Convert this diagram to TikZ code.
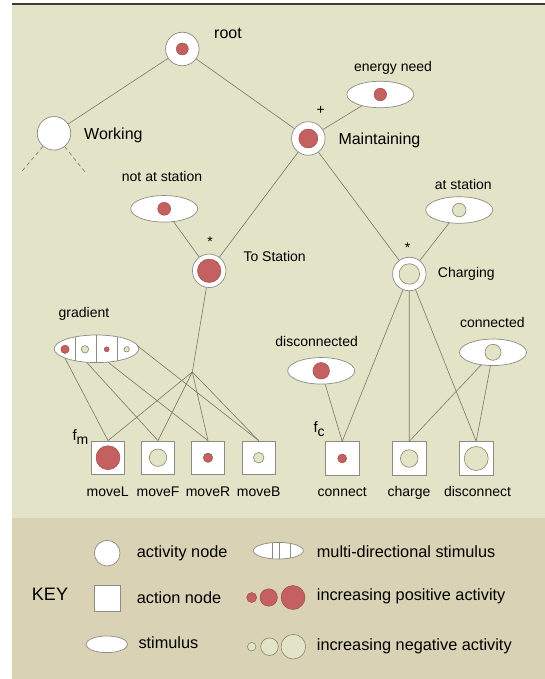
\documentclass[tikz,border=0pt]{standalone}
\usepackage{fontspec}
\setmainfont{Liberation Sans}
\usetikzlibrary{shapes.geometric,backgrounds}

\definecolor{bgtop}{RGB}{227,227,200}
\definecolor{bgkey}{RGB}{218,210,180}
\definecolor{posred}{RGB}{196,96,96}
\definecolor{posedge}{RGB}{150,70,70}
\definecolor{negfill}{RGB}{227,227,200}
\definecolor{negedge}{RGB}{135,135,105}
\definecolor{edgecol}{RGB}{120,120,105}
\definecolor{outl}{RGB}{140,140,135}
\definecolor{topline}{RGB}{60,60,60}

\begin{document}
\begin{tikzpicture}[x=1pt,y=-1pt,
  act/.style={circle, draw=outl, fill=white, minimum size=33.5pt, inner sep=0pt, line width=0.7pt},
  actbox/.style={rectangle, draw=outl, fill=white, minimum size=33.5pt, inner sep=0pt, line width=0.7pt},
  stim/.style={ellipse, draw=outl, fill=white, minimum width=67pt, minimum height=26.5pt, inner sep=0pt, line width=0.7pt},
  posdot/.style={circle, fill=posred, draw=posedge, inner sep=0pt, line width=0.4pt},
  negdot/.style={circle, fill=negfill, draw=negedge, inner sep=0pt, line width=0.6pt},
  link/.style={draw=edgecol, line width=0.6pt},
  dashlink/.style={draw=edgecol, line width=0.6pt, dash pattern=on 4pt off 3pt},
  divider/.style={draw=outl, line width=0.7pt},
  lblA/.style={font=\fontsize{16}{18}\selectfont, inner sep=0pt},
  lblB/.style={font=\fontsize{14}{16}\selectfont, inner sep=0pt},
  lblK/.style={font=\fontsize{16.3}{18}\selectfont, inner sep=0pt},
]
\useasboundingbox (0,0) rectangle (545,679);

% backgrounds
\fill[white] (0,0) rectangle (545,679);
\fill[bgtop] (12.3,4) rectangle (545,518);
\fill[bgkey] (12.3,518) rectangle (545,679);
\draw[topline, line width=1.5pt] (12.3,4) -- (545,4);

% ---------- activity nodes ----------
\node[act] (root) at (182.3,49) {};
\node[posdot, minimum size=12pt] (rootdot) at (root) {};
\node[act] (work) at (54,133.3) {};
\node[act] (maint) at (308.3,138.5) {};
\node[posdot, minimum size=19pt] (maintdot) at (maint) {};
\node[act] (tost) at (209.2,270.8) {};
\node[posdot, minimum size=23.5pt] (tostdot) at (tost) {};
\node[act] (charg) at (409.3,274) {};
\node[negdot, minimum size=20.5pt] (chargdot) at (charg) {};

% ---------- stimuli ----------
\node[stim] (energy) at (380.3,94.5) {};
\node[posdot, minimum size=12.6pt] (energydot) at (energy) {};
\node[stim] (notat) at (164.2,208.8) {};
\node[posdot, minimum size=13pt] (notatdot) at (notat) {};
\node[stim] (atst) at (459.2,210) {};
\node[negdot, minimum size=13.5pt] (atstdot) at (atst) {};
\node[stim] (disc) at (321.2,370.8) {};
\node[posdot, minimum size=16.6pt] (discdot) at (disc) {};
\node[stim] (conn) at (493,352.3) {};
\node[negdot, minimum size=16pt] (conndot) at (conn) {};

% gradient (multi-directional stimulus)
\node[stim, minimum width=84.6pt, minimum height=27.6pt] (grad) at (96.5,348.8) {};
\draw[divider] (75.5,336.8) -- (75.5,360.8);
\draw[divider] (96.5,335.0) -- (96.5,362.6);
\draw[divider] (117.5,336.8) -- (117.5,360.8);
\node[posdot, minimum size=8.4pt] (gd1) at (65,349.3) {};
\node[negdot, minimum size=7.4pt] (gd2) at (85,349.3) {};
\node[posdot, minimum size=5pt] (gd3) at (106.7,349.3) {};
\node[negdot, minimum size=5.4pt] (gd4) at (126.7,349.3) {};
\coordinate (g1) at (65,358.3);
\coordinate (g2) at (86.7,362.4);
\coordinate (g3) at (108.3,362.4);
\coordinate (g4) at (137,345.5);

% ---------- action nodes ----------
\node[actbox] (mL) at (108,457.7) {};
\node[posdot, minimum size=24pt] (mLdot) at (mL) {};
\node[actbox] (mF) at (158,457.7) {};
\node[negdot, minimum size=17.4pt] (mFdot) at (mF) {};
\node[actbox] (mR) at (208,457.7) {};
\node[posdot, minimum size=9.4pt] (mRdot) at (mR) {};
\node[actbox] (mB) at (258.7,457.7) {};
\node[negdot, minimum size=10.6pt] (mBdot) at (mB) {};
\node[actbox] (cnct) at (342.2,458.5) {};
\node[posdot, minimum size=9pt] (cnctdot) at (cnct) {};
\node[actbox] (chrg) at (409.2,458.5) {};
\node[negdot, minimum size=17.6pt] (chrgdot) at (chrg) {};
\node[actbox] (dcnt) at (476.2,458.5) {};
\node[negdot, minimum size=24pt] (dcntdot) at (dcnt) {};

\coordinate (J) at (192.3,372);
\coordinate (wd1) at (20.7,172.7);
\coordinate (wd2) at (86,173.3);

% ---------- connectors ----------
\draw[link] (root) -- (work);
\draw[link] (root) -- (maint);
\draw[link] (maint) -- (energy);
\draw[link] (maint) -- (tost);
\draw[link] (maint) -- (charg);
\draw[link] (notat) -- (tost);
\draw[link] (atst) -- (charg);
\draw[dashlink] (work) -- (wd1);
\draw[dashlink] (work) -- (wd2);
\draw[link] (tost) -- (J);
\draw[link] (J) -- (mL.north);
\draw[link] (J) -- (mF.north);
\draw[link] (J) -- (mR.north);
\draw[link] (J) -- (mB.north);
\draw[link] (g1) -- (mL.north);
\draw[link] (g2) -- (mF.north);
\draw[link] (g3) -- (mR.north);
\draw[link] (g4) -- (mB.north);
\draw[link] (disc) -- (cnct.north);
\draw[link] (charg) -- (cnct.north);
\draw[link] (charg) -- (chrg.north);
\draw[link] (charg) -- (dcnt.north);
\draw[link] (conn) -- (chrg.north);
\draw[link] (conn) -- (dcnt.north);

% ---------- labels ----------
\node[lblA, anchor=base] (lroot) at (228,39) {root};
\node[lblA, anchor=base west] (lwork) at (84,139.5) {Working};
\node[lblA, anchor=base west] (lmaint) at (338.3,145) {Maintaining};
\node[lblB] (lplus) at (320.7,110.7) {+};
\node[lblB, anchor=base] (lenergy) at (393,72) {energy need};
\node[lblB, anchor=base] (lnotat) at (162,181.5) {not at station};
\node[lblB] (lstar1) at (210,241.5) {*};
\node[lblB, anchor=base west] (ltost) at (243.3,261.7) {To Station};
\node[lblB, anchor=base] (latst) at (463.3,189) {at station};
\node[lblB] (lstar2) at (407.7,247.5) {*};
\node[lblB, anchor=base west] (lcharg) at (437.7,277.7) {Charging};
\node[lblB, anchor=base] (lgrad) at (84,317) {gradient};
\node[lblB, anchor=base] (ldisc) at (316.7,346.7) {disconnected};
\node[lblB, anchor=base] (lconn) at (492.3,327.3) {connected};
\node[anchor=base west, inner sep=0pt, font=\fontsize{15}{16}\selectfont] (lfm) at (72.3,440) {f\raisebox{-4.5pt}{\fontsize{14}{16}\selectfont m}};
\node[anchor=base west, inner sep=0pt, font=\fontsize{15}{16}\selectfont] (lfc) at (313.3,432.7) {f\raisebox{-3.5pt}{\fontsize{14}{16}\selectfont c}};

\node[lblB, anchor=base] (lmL) at (107.7,496) {moveL};
\node[lblB, anchor=base] (lmF) at (158,496) {moveF};
\node[lblB, anchor=base] (lmR) at (208,496) {moveR};
\node[lblB, anchor=base] (lmB) at (258.7,496) {moveB};
\node[lblB, anchor=base] (lcnct) at (342.2,496.5) {connect};
\node[lblB, anchor=base] (lchrg) at (409,496.5) {charge};
\node[lblB, anchor=base] (ldcnt) at (477.5,496.5) {disconnect};

% ---------- key ----------
\node[anchor=base, inner sep=0pt, font=\fontsize{18}{20}\selectfont] (kkey) at (50,600) {KEY};
\node[circle, draw=outl, fill=white, minimum size=25.6pt, inner sep=0pt, line width=0.7pt] (kact) at (107.2,553.2) {};
\node[rectangle, draw=outl, fill=white, minimum size=25.5pt, inner sep=0pt, line width=0.7pt] (kbox) at (107.2,598.3) {};
\node[ellipse, draw=outl, fill=white, minimum width=41.6pt, minimum height=16.6pt, inner sep=0pt, line width=0.7pt] (kstim) at (106.8,644.3) {};
\node[ellipse, draw=outl, fill=white, minimum width=50pt, minimum height=16.6pt, inner sep=0pt, line width=0.7pt] (kmulti) at (278.3,550.7) {};
\draw[divider] (272.5,542.6) -- (272.5,558.8);
\draw[divider] (279.5,542.4) -- (279.5,559.0);
\draw[divider] (290,543.4) -- (290,558.0);
\node[posdot, minimum size=10pt] (kp1) at (251.7,597.5) {};
\node[posdot, minimum size=17.4pt] (kp2) at (268.7,597.5) {};
\node[posdot, minimum size=24pt] (kp3) at (293,597.5) {};
\node[negdot, minimum size=8.6pt] (kn1) at (251.7,646.7) {};
\node[negdot, minimum size=17.6pt] (kn2) at (269.5,646.7) {};
\node[negdot, minimum size=24.6pt] (kn3) at (293.3,646.7) {};

\node[lblK, anchor=base west] (lkact) at (136.7,557) {activity node};
\node[lblK, anchor=base west] (lkbox) at (136.7,603.5) {action node};
\node[lblK, anchor=base west] (lkstim) at (138.3,648.5) {stimulus};
\node[lblK, anchor=base west] (lkmulti) at (316.7,557) {multi-directional stimulus};
\node[lblK, anchor=base west] (lkpos) at (316.7,600.5) {increasing positive activity};
\node[lblK, anchor=base west] (lkneg) at (316.7,650) {increasing negative activity};
\end{tikzpicture}
\end{document}
